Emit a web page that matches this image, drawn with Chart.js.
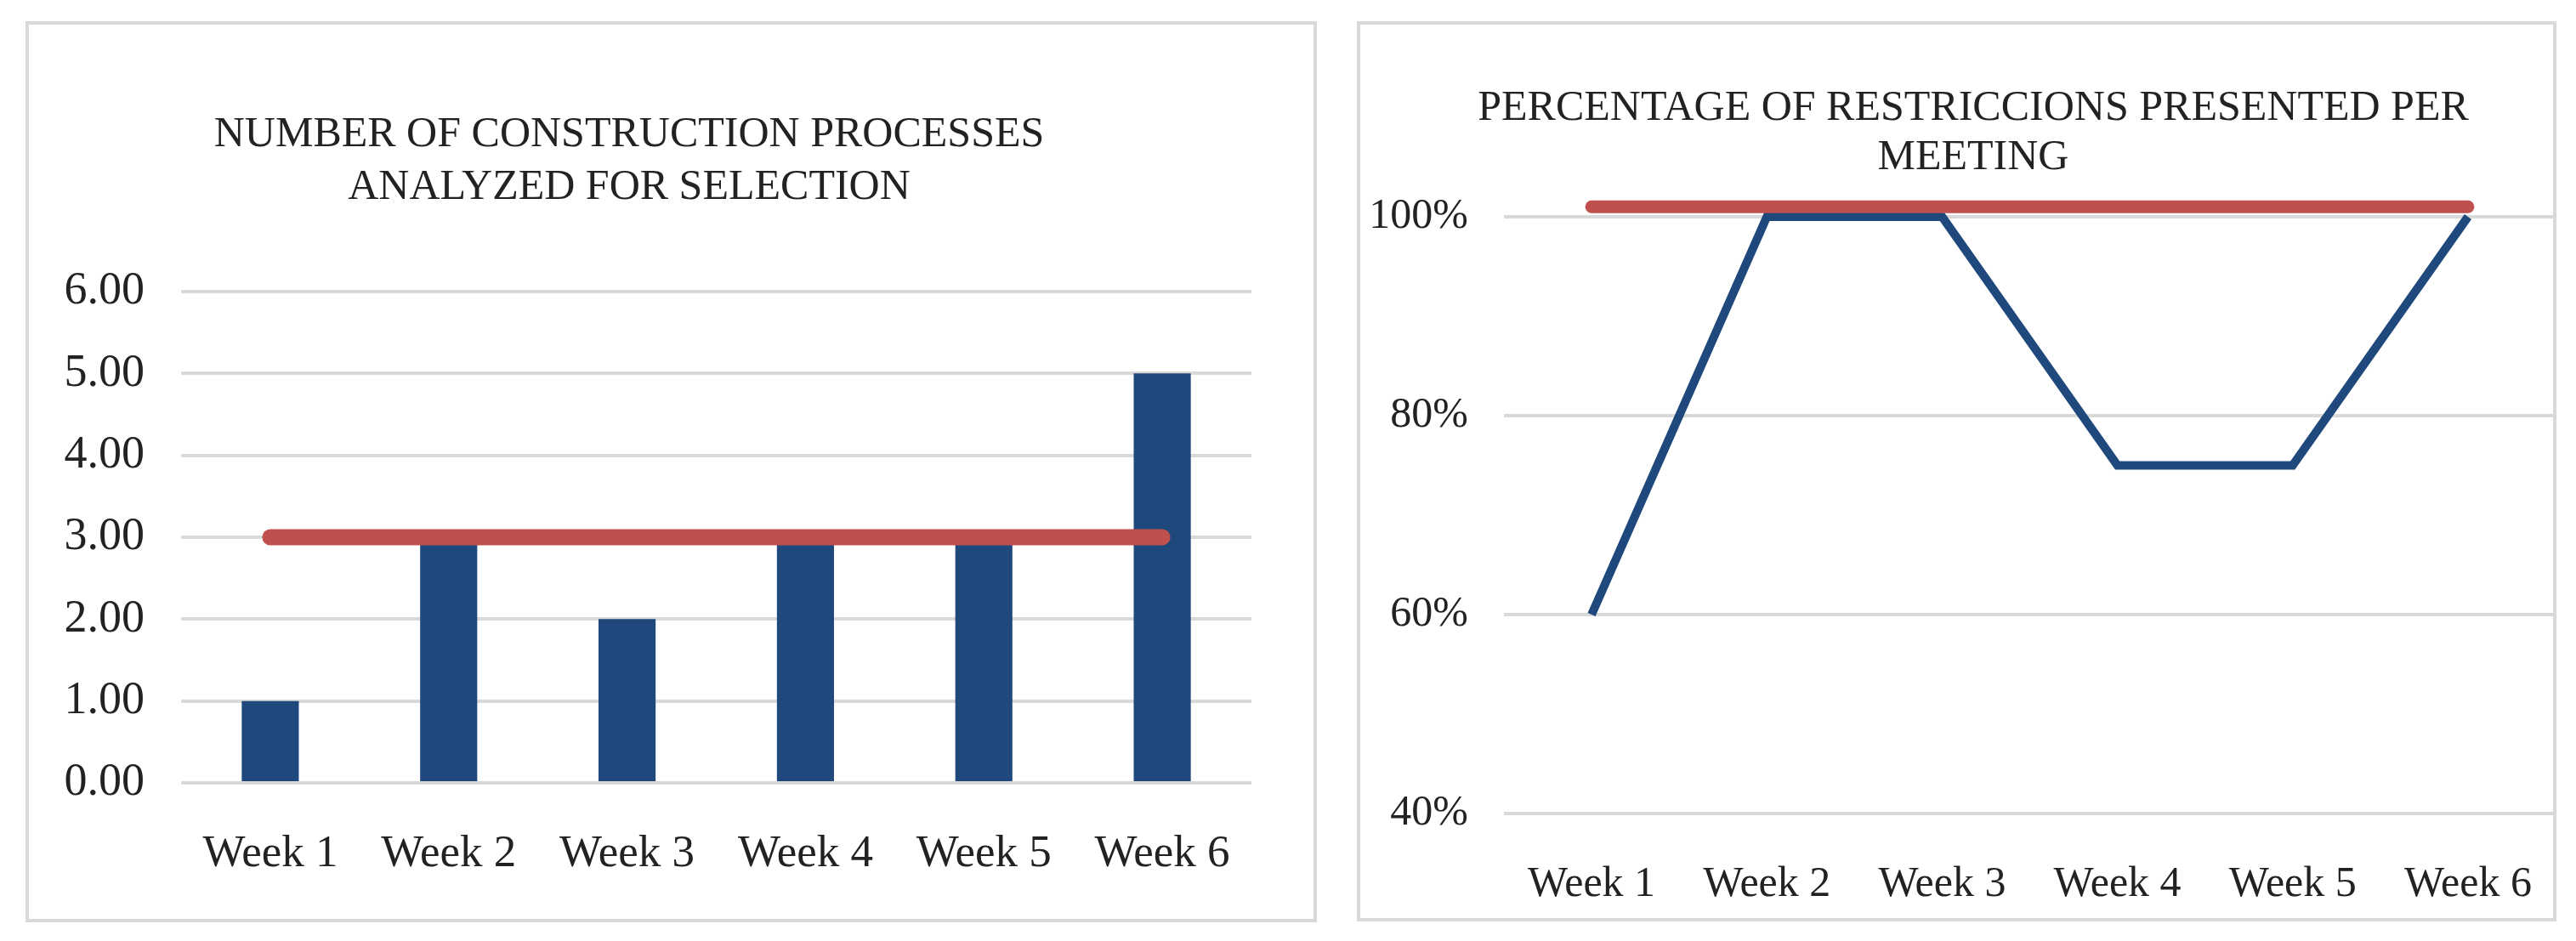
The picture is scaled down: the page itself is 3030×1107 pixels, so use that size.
<!DOCTYPE html>
<html>
<head>
<meta charset="utf-8">
<script src="https://cdn.jsdelivr.net/npm/chart.js@4.4.1/dist/chart.umd.min.js"></script>
<style>
  html, body { margin: 0; padding: 0; background: #ffffff; }
  body { width: 3030px; height: 1107px; position: relative; overflow: hidden; }
  .panel { position: absolute; box-sizing: border-box; border: 4px solid #D9D9D9; background: #ffffff; }
  #p1 { left: 30px; top: 25px; width: 1519px; height: 1060px; }
  #p2 { left: 1596px; top: 25px; width: 1411px; height: 1059px; }
  .wrap { position: absolute; top: 0; height: 1107px; }
  #w1 { left: 0; width: 1560px; }
  #w2 { left: 1560px; width: 1482px; }
</style>
</head>
<body>
<div class="panel" id="p1"></div>
<div class="panel" id="p2"></div>
<div class="wrap" id="w1"><canvas id="c1" width="1560" height="1107"></canvas></div>
<div class="wrap" id="w2"><canvas id="c2" width="1482" height="1107"></canvas></div>
<script>
// ---- data ----
const weeks = ['Week 1', 'Week 2', 'Week 3', 'Week 4', 'Week 5', 'Week 6'];
const processesAnalyzed = [1, 3, 2, 3, 3, 5];
const processesTarget = [3, 3, 3, 3, 3, 3];
const restrictionsPct = [60, 100, 100, 75, 75, 100];
const restrictionsTarget = [101, 101, 101, 101, 101, 101];
const title1 = ['NUMBER OF CONSTRUCTION PROCESSES', 'ANALYZED FOR SELECTION'];
const title2 = ['PERCENTAGE OF RESTRICCIONS PRESENTED PER', 'MEETING'];

const FONT = "'Liberation Serif', 'Times New Roman', serif";
const BLUE = '#1F497D';
const RED = '#C0504D';
const GRID = '#D9D9D9';
const TEXT = '#222222';

new Chart(document.getElementById('c1'), {
  type: 'bar',
  data: {
    labels: weeks,
    datasets: [
      { type: 'line', label: 'Target', data: processesTarget, borderColor: RED, backgroundColor: RED,
        borderWidth: 19, borderCapStyle: 'round', pointRadius: 0, order: 0, clip: false },
      { type: 'bar', label: 'Processes', data: processesAnalyzed, backgroundColor: BLUE,
        barPercentage: 0.32, categoryPercentage: 1.0, order: 1 }
    ]
  },
  options: {
    responsive: false, animation: false, devicePixelRatio: 1,
    layout: { padding: { left: 8, right: 88, top: 128, bottom: 0 } },
    plugins: {
      legend: { display: false }, tooltip: { enabled: false },
      title: { display: true, text: title1, color: TEXT,
        font: { family: FONT, size: 50, weight: 'normal', lineHeight: '62px' },
        padding: { top: 0, bottom: 91 } }
    },
    scales: {
      x: {
        offset: true,
        grid: { display: false },
        border: { display: false },
        ticks: { color: TEXT, font: { family: FONT, size: 53 }, padding: 44, maxRotation: 0, autoSkip: false },
        afterFit: (s) => { s.height = 186; }
      },
      y: {
        min: 0, max: 6,
        grid: { color: GRID, lineWidth: 4, drawTicks: false },
        border: { display: false },
        ticks: { stepSize: 1, color: TEXT, font: { family: FONT, size: 54 }, padding: 43,
          callback: (v) => Number(v).toFixed(2) },
        afterFit: (s) => { s.width = 205; }
      }
    }
  }
});

new Chart(document.getElementById('c2'), {
  type: 'line',
  data: {
    labels: weeks,
    datasets: [
      { label: 'Target', data: restrictionsTarget, borderColor: RED, backgroundColor: RED,
        borderWidth: 15, borderCapStyle: 'round', pointRadius: 0, order: 0, clip: false },
      { label: 'Restrictions', data: restrictionsPct, borderColor: BLUE, backgroundColor: BLUE,
        borderWidth: 10, pointRadius: 0, order: 1, clip: false, tension: 0 }
    ]
  },
  options: {
    responsive: false, animation: false, devicePixelRatio: 1,
    layout: { padding: { left: 40, right: 0, top: 99, bottom: 0 } },
    plugins: {
      legend: { display: false }, tooltip: { enabled: false },
      title: { display: true, text: title2, color: TEXT,
        font: { family: FONT, size: 50, weight: 'normal', lineHeight: '58px' },
        padding: { top: 0, bottom: 40 } }
    },
    scales: {
      x: {
        offset: true,
        grid: { display: false },
        border: { display: false },
        ticks: { color: TEXT, font: { family: FONT, size: 50 }, padding: 46, maxRotation: 0, autoSkip: false },
        afterFit: (s) => { s.height = 150; }
      },
      y: {
        min: 40, max: 100,
        grid: { color: GRID, lineWidth: 4, drawTicks: false },
        border: { display: false },
        ticks: { stepSize: 20, color: TEXT, font: { family: FONT, size: 50 }, padding: 42,
          callback: (v) => v + '%' },
        afterFit: (s) => { s.width = 169; }
      },
      ySpacer: {
        position: 'right', display: true,
        grid: { display: false }, border: { display: false },
        ticks: { display: false },
        afterFit: (s) => { s.width = 36; }
      }
    }
  }
});
</script>
</body>
</html>
